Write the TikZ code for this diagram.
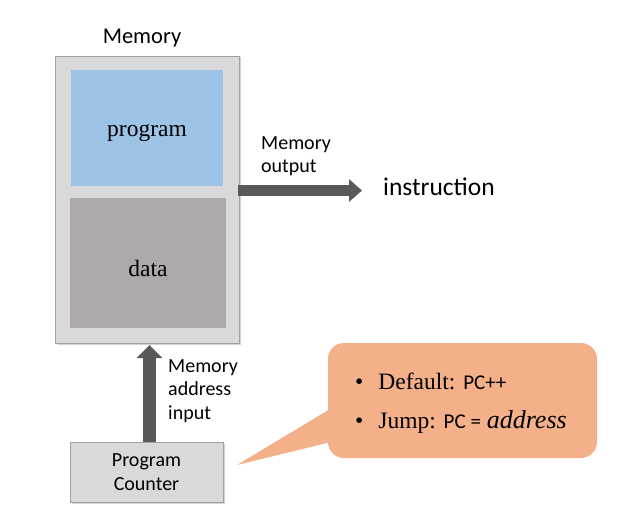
\documentclass[tikz,border=0pt]{standalone}
\usepackage{fontspec}
\setmainfont{Liberation Serif}
\newfontfamily\calib{Carlito}
\usetikzlibrary{arrows.meta,shadows}
\definecolor{memgray}{RGB}{217,217,217}
\definecolor{memedge}{RGB}{160,160,160}
\definecolor{progblue}{RGB}{157,195,230}
\definecolor{datagray}{RGB}{174,170,170}
\definecolor{arrowgray}{RGB}{89,89,89}
\definecolor{calloutfill}{RGB}{243,176,137}
\tikzset{
  boxshadow/.style={drop shadow={opacity=0.35,shadow xshift=1.5pt,shadow yshift=-1.5pt}},
  fatarrow/.style={draw=arrowgray,line width=11pt,-{Triangle[width=22pt,length=13pt]}},
  sanslabel/.style={font=\calib\fontsize{20}{23.5}\selectfont,align=left,inner sep=0pt},
  serifbig/.style={font=\fontsize{23.5}{26}\selectfont,inner sep=0pt},
}
\begin{document}
\begin{tikzpicture}[x=1pt,y=-1pt]
\useasboundingbox (0,0) rectangle (618,532);
% memory
\node[boxshadow,draw=memedge,fill=memgray,line width=0.8pt,minimum width=184pt,minimum height=287pt,inner sep=0pt] (mem) at (147,199.5) {};
\node[fill=progblue,minimum width=152pt,minimum height=116pt,inner sep=0pt] (prog) at (147,128) {};
\node[serifbig] (progtxt) at (147,133) {program};
\node[fill=datagray,minimum width=156pt,minimum height=130pt,inner sep=0pt] (data) at (148,263) {};
\node[serifbig] (datatxt) at (148,268) {data};
\node[font=\calib\fontsize{22.5}{26}\selectfont,inner sep=0pt] (memlbl) at (142,38.5) {Memory};
% output
\node[font=\calib\fontsize{25.5}{28}\selectfont,anchor=west,inner sep=0pt] (instr) at (383,186.5) {instruction};
\coordinate (outstart) at (238,190.5);
\coordinate (outend) at (362,190.5);
\draw[fatarrow] (outstart) -- (outend);
\node[sanslabel,anchor=north west] (outlbl) at (261,136) {Memory\\output};
% program counter
\node[boxshadow,draw=memedge,fill=memgray,line width=0.8pt,minimum width=153pt,minimum height=60pt,inner sep=0pt,align=center,font=\calib\fontsize{20}{23.5}\selectfont] (pc) at (146.5,472) {Program\\Counter};
\coordinate (inend) at (149.5,345);
\draw[fatarrow,line width=13pt,-{Triangle[width=25pt,length=13pt]}] (pc.north -| inend) -- (inend);
\node[sanslabel,anchor=north west] (inlbl) at (168,359) {Memory\\address\\input};
% callout
\coordinate (tip) at (237,465);
\fill[calloutfill] (tip) -- (335,406) -- (335,441) -- cycle;
\node[fill=calloutfill,rounded corners=16pt,minimum width=269pt,minimum height=115pt,inner sep=0pt] (callout) at (462.5,400.5) {};
\node[anchor=west,serifbig,align=left] (b1) at (355,381) {\textbullet\hspace{15pt}Default: {\calib\fontsize{21}{23}\selectfont PC++}};
\node[anchor=west,serifbig,align=left] (b2) at (355,421.5) {\textbullet\hspace{15pt}Jump: {\calib\fontsize{21}{23}\selectfont PC =} {\fontsize{26}{28}\selectfont\itshape address}};
\end{tikzpicture}
\end{document}
